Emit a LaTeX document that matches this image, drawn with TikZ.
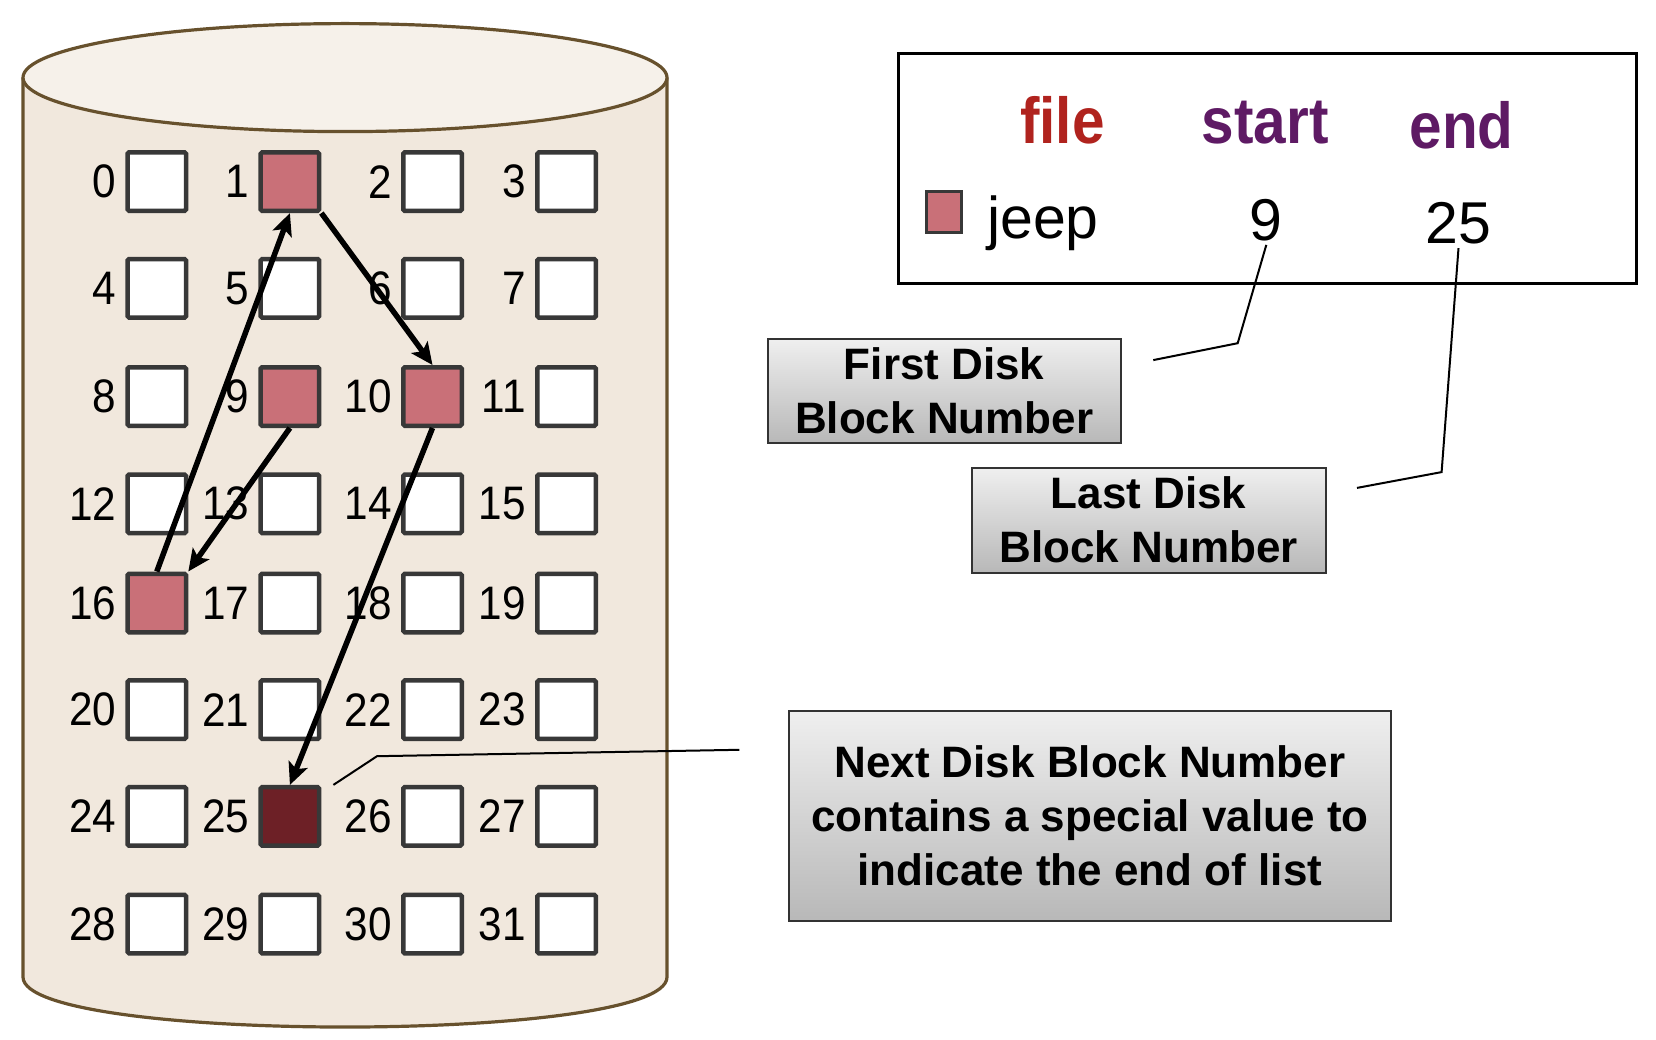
\documentclass[tikz,border=0pt]{standalone}
\usepackage{fontspec}
\setmainfont{Liberation Sans}
\newfontfamily\narrowfont[FakeStretch=0.9]{Liberation Sans}
\usetikzlibrary{arrows.meta}
\definecolor{cylfill}{HTML}{F1E8DD}
\definecolor{cyltop}{HTML}{F6F1EA}
\definecolor{cylline}{HTML}{67512D}
\definecolor{blkpink}{HTML}{C97078}
\definecolor{blkdark}{HTML}{6D2026}
\definecolor{blkline}{HTML}{383838}
\definecolor{hdred}{HTML}{B0231E}
\definecolor{hdpurple}{HTML}{5E1A64}
\definecolor{gtop}{HTML}{EFEFEF}
\definecolor{gbot}{HTML}{B8B8B8}
\begin{document}
\begin{tikzpicture}[x=1pt,y=-1pt,
 blk/.style={draw=blkline, line width=4.5pt, minimum size=58.5pt, inner sep=0pt, rounded corners=1.5pt},
 num/.style={font=\narrowfont\fontsize{47}{47}\selectfont, inner sep=0pt, anchor=east},
 link/.style={line width=5.5pt, -{Stealth[length=22pt,width=20pt,inset=5pt]}},
 callbox/.style={draw=black!80, line width=2pt, top color=gtop, bottom color=gbot, align=center, font=\fontsize{44}{54}\selectfont\bfseries, inner sep=0pt},
 callline/.style={line width=2pt},
 head/.style={font=\narrowfont\bfseries\fontsize{65}{65}\selectfont, anchor=base},
 val/.style={font=\fontsize{59}{59}\selectfont, anchor=base}
]
\useasboundingbox (0,0) rectangle (1656,1040);
% cylinder
\fill[cylfill] (23,77.6) -- (23,977) .. controls (23,1043.7) and (667,1043.7) .. (667,977) -- (667,77.6) -- cycle;
\draw[cylline, line width=3.2pt] (23,77.6) -- (23,977) .. controls (23,1043.7) and (667,1043.7) .. (667,977) -- (667,77.6);
\draw[cylline, line width=3.2pt, fill=cyltop] (345,77.6) ellipse [x radius=322pt, y radius=54pt];
% blocks
\foreach \i in {0,...,31}{
  \pgfmathtruncatemacro\c{mod(\i,4)}
  \pgfmathtruncatemacro\r{int(\i/4)}
  \pgfmathsetmacro\xx{{156.8,289.9,432.5,566.6}[\c]}
  \pgfmathsetmacro\yy{{181.6,288.3,396.5,503.8,603.0,709.7,816.4,924.1}[\r]}
  \def\fc{white}
  \ifnum\i=1 \def\fc{blkpink}\fi
  \ifnum\i=9 \def\fc{blkpink}\fi
  \ifnum\i=10 \def\fc{blkpink}\fi
  \ifnum\i=16 \def\fc{blkpink}\fi
  \ifnum\i=25 \def\fc{blkdark}\fi
  \node[blk, fill=\fc] (b\i) at (\xx,\yy) {};
  \node[num] (n\i) at ([xshift=-9pt]b\i.west) {\i};
}
% chain
\draw[link] (b9.south) -- (b16.north east);
\draw[link] (b16.north) -- (b1.south);
\draw[link] (b1.south east) -- (b10.north);
\draw[link] (b10.south) -- (b25.north);
% directory entry
\node[draw=black, line width=3pt, minimum width=738pt, minimum height=230pt, inner sep=0pt] (legend) at (1267.3,168.4) {};
\node[head, text=hdred] (hfile) at (1062.4,143.6) {file};
\node[head, text=hdpurple] (hstart) at (1265.2,143.6) {start};
\node[head, text=hdpurple] (hend) at (1461.6,148.9) {end};
\node[draw=blkline, line width=3pt, fill=blkpink, minimum width=35pt, minimum height=41pt, inner sep=0pt] (key) at (944,212.3) {};
\node[val] (vjeep) at (1042.9,238.7) {jeep};
\node[val] (vstart) at (1266.3,240.8) {9};
\node[val] (vend) at (1458.5,244) {25};
% callouts
\node[callbox, minimum width=353pt, minimum height=104pt] (first) at (944.2,390.8) {First Disk\\Block Number};
\node[callbox, minimum width=354pt, minimum height=105pt] (last) at (1148.5,520.2) {Last Disk\\Block Number};
\node[callbox, minimum width=602pt, minimum height=210pt] (next) at (1089.9,815.9) {Next Disk Block Number\\contains a special value to\\indicate the end of list};
\coordinate (firstTip) at (1153.3,360.1);
\coordinate (firstBend) at (1237.7,343.2);
\draw[callline] (firstTip) -- (firstBend) -- (vstart.south);
\coordinate (lastTip) at (1357,487.9);
\coordinate (lastBend) at (1441.6,472.1);
\draw[callline] (lastTip) -- (lastBend) -- (vend.south);
\coordinate (nextTip) at (739.3,749.8);
\coordinate (nextBend) at (377,756.2);
\draw[callline] (nextTip) -- (nextBend) -- ([xshift=12pt]b25.north east);
\end{tikzpicture}
\end{document}
